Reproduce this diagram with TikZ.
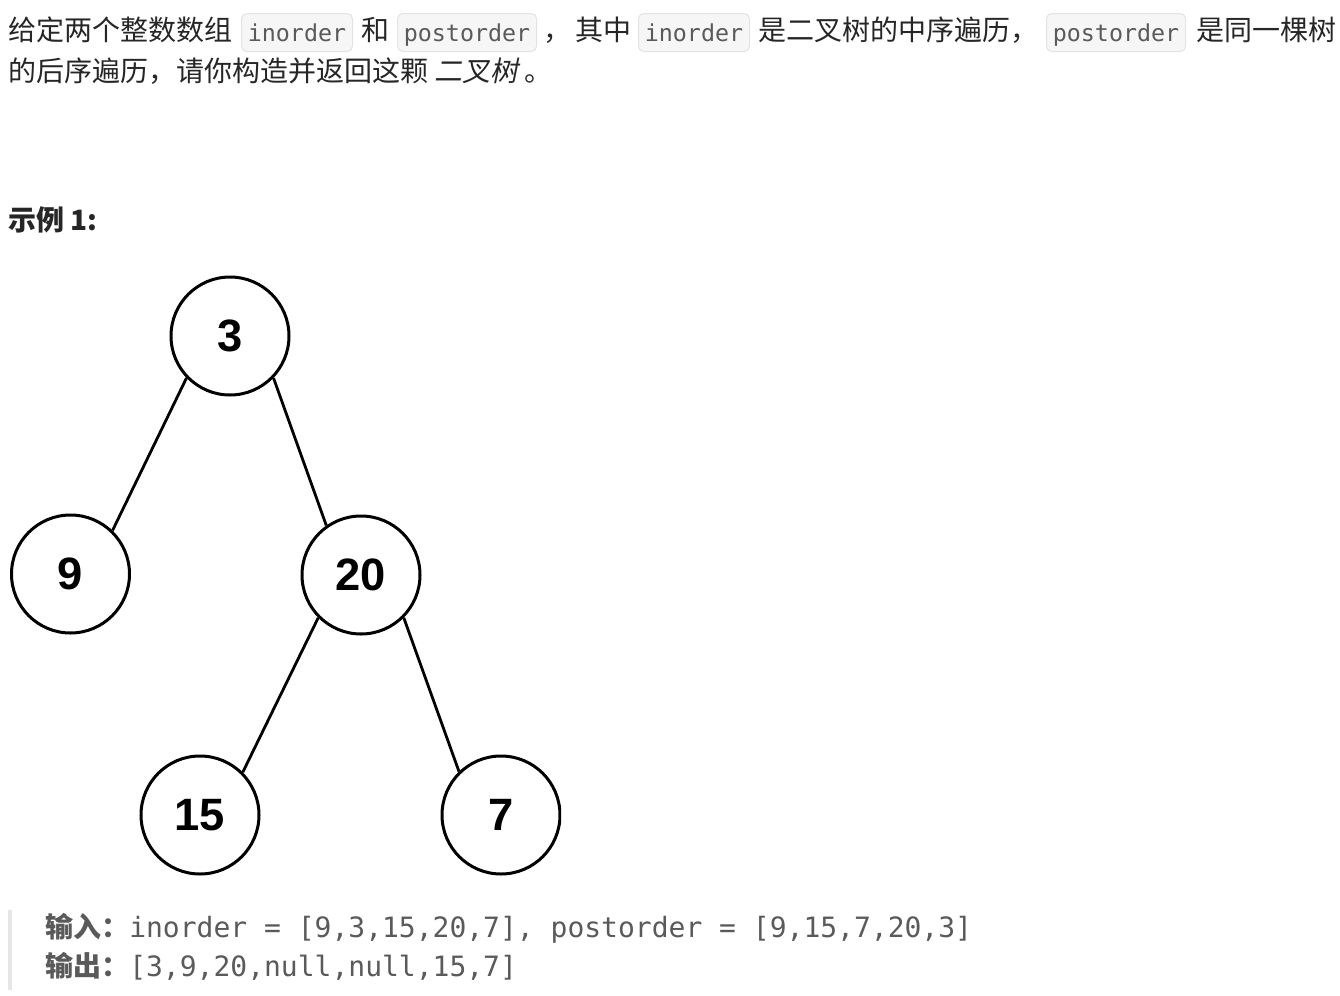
\documentclass[tikz,border=0pt]{standalone}
\usepackage{fontspec}
\setmainfont{Noto Sans CJK SC}
\newfontfamily\codefont{DejaVu Sans Mono}
\newfontfamily\numfont{Liberation Sans}
\newfontfamily\slantfont{Noto Sans CJK SC}[FakeSlant=0.2]
\usepackage{tikz}
\definecolor{textcol}{HTML}{262626}
\definecolor{codefg}{HTML}{5A5A5A}
\definecolor{codebg}{HTML}{F6F6F6}
\definecolor{codeline}{HTML}{E3E3E3}
\definecolor{barcol}{HTML}{E6E6E6}
\tikzset{
  para/.style={anchor=base west, inner sep=0pt, text=textcol,
    font=\fontsize{21}{25}\selectfont},
  code/.style={anchor=base west, draw=codeline, fill=codebg, line width=0.75pt,
    rounded corners=4pt, inner xsep=4.75pt, inner ysep=0pt,
    text height=16.5pt, text depth=3.75pt, minimum height=28.5pt,
    text=codefg, font=\codefont\fontsize{17.5}{20}\selectfont},
  label/.style={anchor=base west, inner sep=0pt, text=codefg,
    font=\bfseries\fontsize{21}{25}\selectfont},
  output/.style={anchor=base west, inner sep=0pt, text=codefg,
    font=\codefont\fontsize{21}{25}\selectfont},
  tnode/.style={circle, draw=black, line width=2.25pt, minimum size=88.5pt,
    inner sep=0pt, font=\numfont\bfseries\fontsize{34}{34}\selectfont},
  tedge/.style={line width=2.1pt}
}

\begin{document}
\begin{tikzpicture}[x=0.75pt, y=-0.75pt]
    \useasboundingbox (0,0) rectangle (1340,996);

    % statement
    \node[para] (t1) at (8,40.5){给定两个整数数组};
    \node[code] (c1) at (241,41){inorder};
    \node[para] (t2) at (361,40.5){和};
    \node[code] (c2) at (397,41){postorder};
    \node[para] (t3) at (543,40.5){，};
    \node[para] (t4) at (575,40.5){其中};
    \node[code] (c3) at (638,41){inorder};
    \node[para] (t5) at (758,40.5){是二叉树的中序遍历，};
    \node[code] (c4) at (1046,41){postorder};
    \node[para] (t6) at (1196,40.5){是同一棵树};
    \node[para] (t7) at (8,81){的后序遍历，请你构造并返回这颗 {\slantfont 二叉树} 。};

    \node[para, font=\bfseries\fontsize{21}{25}\selectfont] (ex) at (8,230.5){示例 1:};

    % tree
    \begin{scope}
      \clip (0,260) rectangle (561,890);
      \node[tnode] (N3) at (230,336){3};
      \node[tnode] (N9) at (70.5,574){9};
      \node[tnode] (N20) at (361,575){20};
      \node[tnode] (N15) at (200,815){15};
      \node[tnode] (N7) at (501,815){7};
      \draw[tedge] (N3.224)--(N9.46);
      \draw[tedge] (N3.316)--(N20.125);
      \draw[tedge] (N20.225)--(N15.45);
      \draw[tedge] (N20.315)--(N7.134);
    \end{scope}

    % example block
    \fill[barcol] (8,910) rectangle (12,990);
    \node[label] (in) at (45,937){输入：};
    \node[output] (inval) at (129,937){inorder = [9,3,15,20,7], postorder = [9,15,7,20,3]};
    \node[label] (out) at (45,976){输出：};
    \node[output] (outval) at (129,976){[3,9,20,null,null,15,7]};
  \end{tikzpicture}
\end{document}
